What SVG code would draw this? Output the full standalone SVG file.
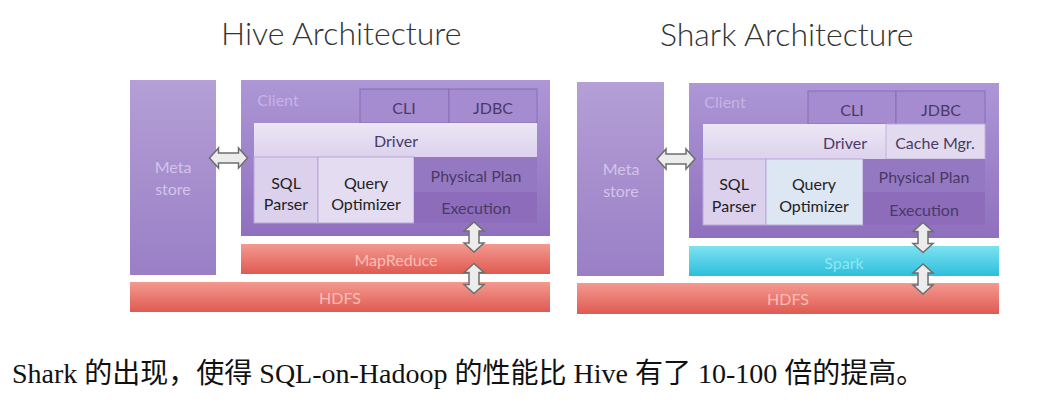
<svg xmlns="http://www.w3.org/2000/svg" width="1039" height="401" viewBox="0 0 1039 401">
<defs>
<linearGradient id="gPurple" x1="0" y1="0" x2="0" y2="1"><stop offset="0" stop-color="#b49fd6"/><stop offset="1" stop-color="#9a7fc6"/></linearGradient>
<linearGradient id="gClient" x1="0" y1="0" x2="0" y2="1"><stop offset="0" stop-color="#ad97d6"/><stop offset="1" stop-color="#8f70be"/></linearGradient>
<linearGradient id="gRed" x1="0" y1="0" x2="0" y2="1"><stop offset="0" stop-color="#f39a90"/><stop offset="1" stop-color="#df5a52"/></linearGradient>
<linearGradient id="gCyan" x1="0" y1="0" x2="0" y2="1"><stop offset="0" stop-color="#7ee2f0"/><stop offset="1" stop-color="#2cbfdc"/></linearGradient>
<linearGradient id="gDriver" x1="0" y1="0" x2="0" y2="1"><stop offset="0" stop-color="#ece6f5"/><stop offset="1" stop-color="#dcd2ec"/></linearGradient>
<path id="hArrow" d="M-19,0 L-10,-10 L-10,-5 L10,-5 L10,-10 L19,0 L10,10 L10,5 L-10,5 L-10,10 Z"/>
<path id="vArrow" d="M0,-15 L-10,-6 L-5,-6 L-5,6 L-10,6 L0,15 L10,6 L5,6 L5,-6 L10,-6 Z"/>
</defs>
<style>
.t{font-family:Lato,"Open Sans",sans-serif;text-anchor:middle;}
.title{font-family:Lato,"Open Sans",sans-serif;font-size:32px;fill:#333;font-weight:300;}
.lab{font-size:16px;fill:#4a3a66;}
.lt{font-size:16px;fill:#d2c4ea;}
.rt{font-size:16px;fill:#f8bdb6;}
.ct{font-size:16px;fill:#8fe6f2;}
.box{stroke:#8a6db8;stroke-width:1;}
.arr{fill:#ececec;stroke:#6e6e6e;stroke-width:1.5;}
.cap{font-family:"Liberation Serif","Noto Sans CJK SC",serif;font-size:28px;fill:#111;}
</style>
<rect width="1039" height="401" fill="#ffffff"/>
<text class="title" x="221" y="45">Hive Architecture</text>
<text class="title" x="660" y="46">Shark Architecture</text>

<!-- Hive -->
<g id="hive-metastore"><rect x="130" y="80" width="86" height="195" fill="url(#gPurple)"/><text class="t lt" x="173" y="173">Meta</text><text class="t lt" x="173" y="195">store</text></g>
<g id="hive-client"><rect x="241" y="80" width="309" height="156" fill="url(#gClient)"/><text class="t lt" x="278" y="106" style="fill:#c6b4e2">Client</text></g>
<g id="hive-cli"><rect class="box" x="360" y="89" width="89" height="34" fill="#a58cd0"/><text class="t lab" x="404" y="114">CLI</text></g>
<g id="hive-jdbc"><rect class="box" x="449" y="89" width="88" height="34" fill="#a58cd0"/><text class="t lab" x="493" y="114">JDBC</text></g>
<g id="hive-driver"><rect x="254" y="123" width="283" height="34" fill="url(#gDriver)"/><text class="t lab" x="396" y="147">Driver</text></g>
<g id="hive-sqlparser"><rect x="254" y="157" width="64" height="66" fill="#dcd1ec" stroke="#b9a6d8"/><text class="t lab" x="286" y="189" style="fill:#222">SQL</text><text class="t lab" x="286" y="210" style="fill:#222">Parser</text></g>
<g id="hive-optimizer"><rect x="318" y="157" width="96" height="66" fill="#e4dcf0" stroke="#b9a6d8"/><text class="t lab" x="366" y="189" style="fill:#222">Query</text><text class="t lab" x="366" y="210" style="fill:#222">Optimizer</text></g>
<g id="hive-physplan"><rect x="414" y="157" width="123" height="35" fill="#9479c2"/><text class="t lab" x="476" y="182">Physical Plan</text></g>
<g id="hive-execution"><rect x="414" y="192" width="123" height="31" fill="#8c6cbb"/><text class="t lab" x="476" y="214">Execution</text></g>
<g id="hive-mapreduce"><rect x="241" y="244" width="309" height="30" fill="url(#gRed)"/><text class="t rt" x="396" y="266">MapReduce</text></g>
<g id="hive-hdfs"><rect x="130" y="282" width="420" height="30" fill="url(#gRed)"/><text class="t rt" x="340" y="304">HDFS</text></g>

<!-- Shark -->
<g id="shark-metastore"><rect x="577" y="82" width="87" height="194" fill="url(#gPurple)"/><text class="t lt" x="621" y="175">Meta</text><text class="t lt" x="621" y="197">store</text></g>
<g id="shark-client"><rect x="689" y="83" width="310" height="155" fill="url(#gClient)"/><text class="t lt" x="725" y="108" style="fill:#c6b4e2">Client</text></g>
<g id="shark-cli"><rect class="box" x="808" y="91" width="88" height="33" fill="#a58cd0"/><text class="t lab" x="852" y="116">CLI</text></g>
<g id="shark-jdbc"><rect class="box" x="896" y="91" width="89" height="33" fill="#a58cd0"/><text class="t lab" x="941" y="116">JDBC</text></g>
<g id="shark-driver"><rect x="703" y="124" width="183" height="35" fill="url(#gDriver)"/><text class="t lab" x="845" y="149">Driver</text></g>
<g id="shark-cachemgr"><rect x="886" y="124" width="99" height="35" fill="#e2daef" stroke="#c2b2dd"/><text class="t lab" x="935" y="149">Cache Mgr.</text></g>
<g id="shark-sqlparser"><rect x="703" y="159" width="63" height="66" fill="#dcd1ec" stroke="#b9a6d8"/><text class="t lab" x="734" y="190" style="fill:#222">SQL</text><text class="t lab" x="734" y="212" style="fill:#222">Parser</text></g>
<g id="shark-optimizer"><rect x="766" y="159" width="97" height="66" fill="#dde6f3" stroke="#b9a6d8"/><text class="t lab" x="814" y="190" style="fill:#222">Query</text><text class="t lab" x="814" y="212" style="fill:#222">Optimizer</text></g>
<g id="shark-physplan"><rect x="863" y="159" width="122" height="33" fill="#9479c2"/><text class="t lab" x="924" y="183">Physical Plan</text></g>
<g id="shark-execution"><rect x="863" y="192" width="122" height="33" fill="#8c6cbb"/><text class="t lab" x="924" y="216">Execution</text></g>
<g id="shark-spark"><rect x="689" y="246" width="310" height="30" fill="url(#gCyan)"/><text class="t ct" x="844" y="269">Spark</text></g>
<g id="shark-hdfs"><rect x="577" y="283" width="422" height="31" fill="url(#gRed)"/><text class="t rt" x="788" y="305">HDFS</text></g>

<g id="connectors">
<use href="#hArrow" class="arr" transform="translate(228.5,158)"/>
<use href="#vArrow" class="arr" transform="translate(474,237)"/>
<use href="#vArrow" class="arr" transform="translate(474,278.5)"/>
<use href="#hArrow" class="arr" transform="translate(676,159)"/>
<use href="#vArrow" class="arr" transform="translate(923,237.5)"/>
<use href="#vArrow" class="arr" transform="translate(923,279)"/>
</g>

<text class="cap" x="12" y="383">Shark 的出现，使得 SQL-on-Hadoop 的性能比 Hive 有了 10-100 倍的提高。</text>
</svg>
